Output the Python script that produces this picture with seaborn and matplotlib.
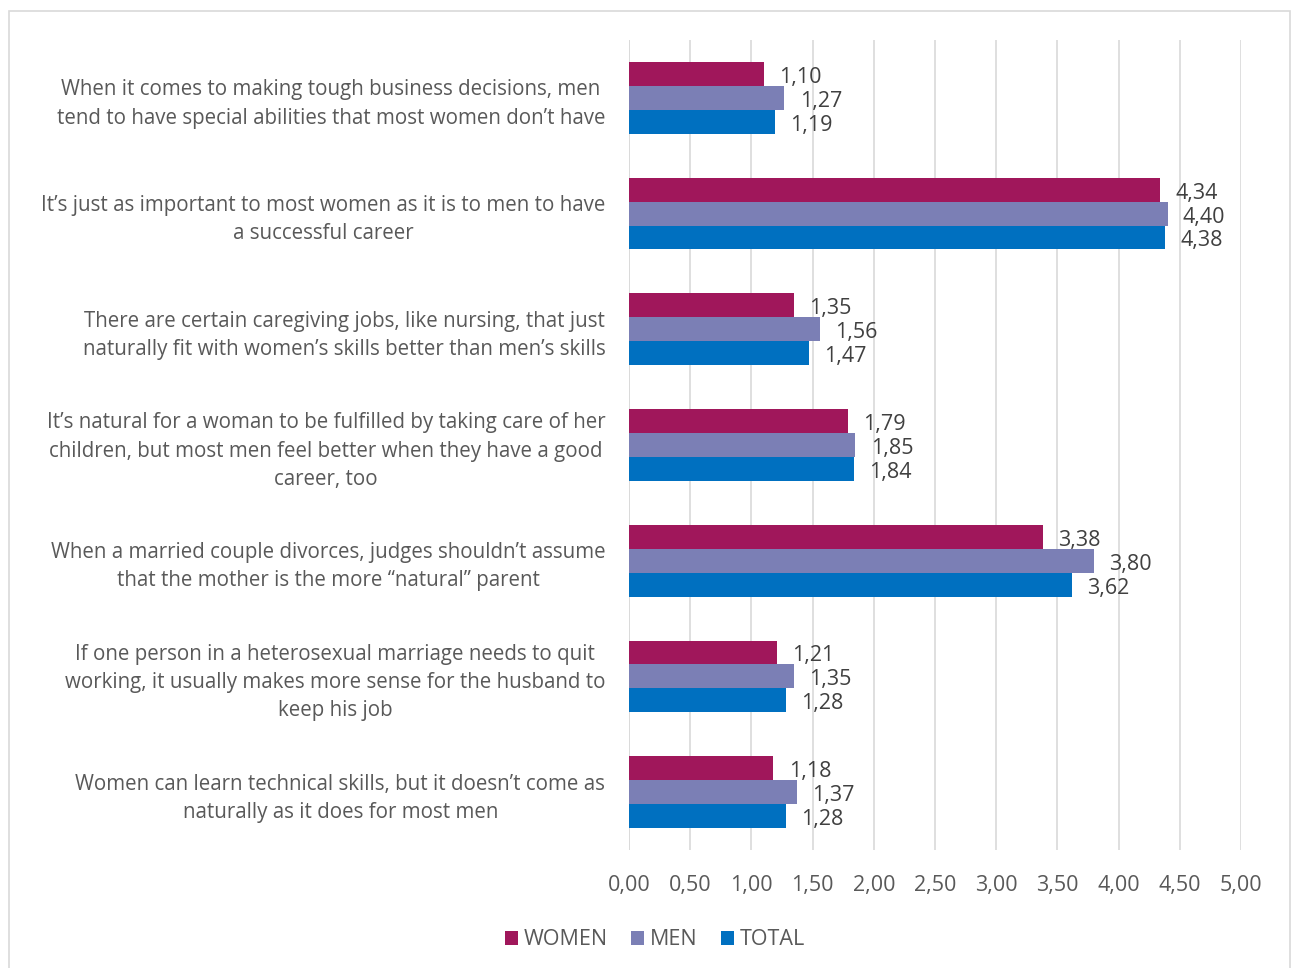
import pandas as pd
import numpy as np
import matplotlib
matplotlib.use("Agg")
import matplotlib.pyplot as plt
import seaborn as sns
from matplotlib.patches import Rectangle

statements = [
    "When it comes to making tough business decisions, men\ntend to have special abilities that most women don\u2019t have",
    "It\u2019s just as important to most women as it is to men to have\na successful career",
    "There are certain caregiving jobs, like nursing, that just\nnaturally fit with women\u2019s skills better than men\u2019s skills",
    "It\u2019s natural for a woman to be fulfilled by taking care of her\nchildren, but most men feel better when they have a good\ncareer, too",
    "When a married couple divorces, judges shouldn\u2019t assume\nthat the mother is the more \u201cnatural\u201d parent",
    "If one person in a heterosexual marriage needs to quit\nworking, it usually makes more sense for the husband to\nkeep his job",
    "Women can learn technical skills, but it doesn\u2019t come as\nnaturally as it does for most men",
]
groups = ["WOMEN", "MEN", "TOTAL"]
women = [1.10, 4.34, 1.35, 1.79, 3.38, 1.21, 1.18]
men = [1.27, 4.40, 1.56, 1.85, 3.80, 1.35, 1.37]
total = [1.19, 4.38, 1.47, 1.84, 3.62, 1.28, 1.28]
xticks = np.arange(0, 5.01, 0.5)

colors = ["#A0175B", "#7B7FB5", "#0070C0"]
grey = "#595959"

df = pd.DataFrame({
    "statement": statements * 3,
    "group": [g for g in groups for _ in statements],
    "value": women + men + total,
})

sns.set_style("white")
plt.rcParams["font.family"] = ["Open Sans", "DejaVu Sans"]

fig = plt.figure(figsize=(12.95, 9.68), dpi=100)
ax = fig.add_axes([0.4857, 0.1219, 0.4726, 0.8368])

sns.barplot(data=df, y="statement", x="value", hue="group", order=statements,
            hue_order=groups, palette=colors, width=0.62, ax=ax, saturation=1,
            edgecolor="none", legend=True)

for cont, vals in zip(ax.containers, [women, men, total]):
    anns = ax.bar_label(cont, labels=[f"{v:.2f}".replace(".", ",") for v in vals],
                        padding=11, fontsize=15.5, color="#404040")
    for a in anns:
        a.xyann = (11, -2.5)

ax.set_xlim(0, 5.0)
ax.set_xticks(xticks)
ax.set_xticklabels([f"{t:.2f}".replace(".", ",") for t in xticks],
                   fontsize=15.5, color=grey)
ax.tick_params(axis="x", pad=18, length=0)
ax.tick_params(axis="y", pad=17, length=0)
ax.set_yticks(range(len(statements)))
ax.set_yticklabels(statements, fontsize=14.8, color=grey,
                   multialignment="center", linespacing=1.45)
ax.xaxis.grid(True, color="#D9D9D9", linewidth=1.2)
ax.set_axisbelow(True)
for s in ax.spines.values():
    s.set_visible(False)
ax.axvline(0, color="#D9D9D9", linewidth=1.2, zorder=0)
ax.set_xlabel("")
ax.set_ylabel("")

leg = ax.legend(loc="center", bbox_to_anchor=(0.5058, 0.029), bbox_transform=fig.transFigure,
                ncol=3, frameon=False, fontsize=15.5, handlelength=0.6, handleheight=0.6,
                handletextpad=0.25, columnspacing=1.1)
for t in leg.get_texts():
    t.set_color(grey)

fig.patches.append(Rectangle((9 / 1295, -0.01), 1281 / 1295, 1 - 11 / 968 + 0.01,
                             transform=fig.transFigure, fill=False,
                             edgecolor="#D9D9D9", linewidth=1.2))

fig.savefig("out.png", dpi=100)
